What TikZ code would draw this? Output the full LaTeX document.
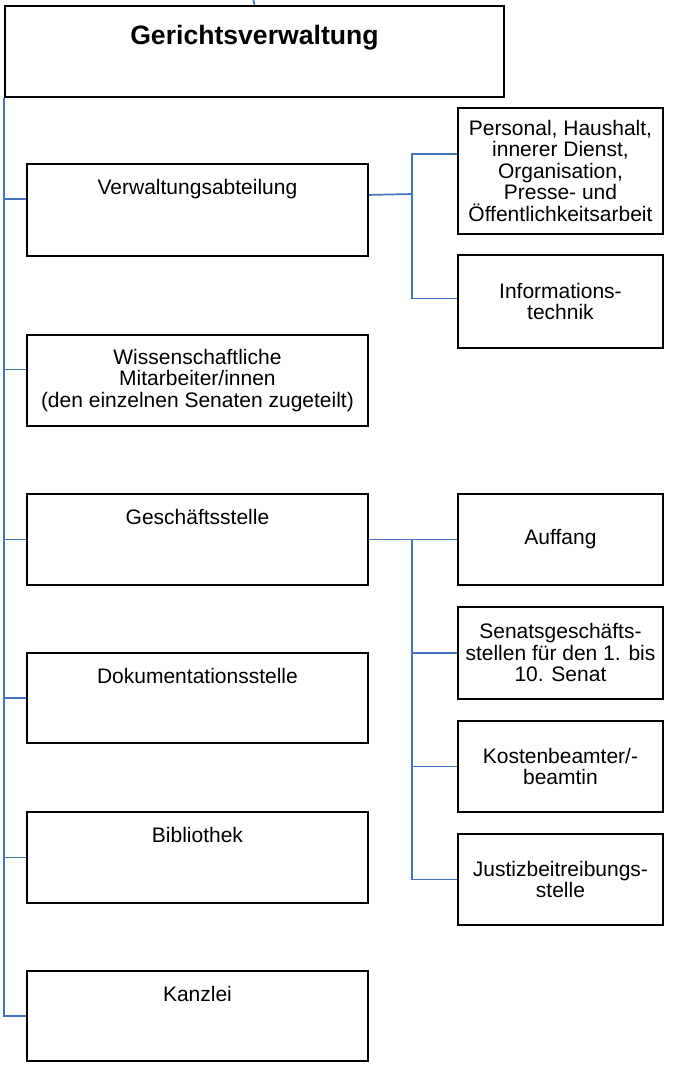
\documentclass[tikz,border=0pt]{standalone}
\usepackage{fontspec}
\setmainfont{Liberation Sans}
\definecolor{lineblue}{RGB}{68,114,196}
\newcommand\mybody{\fontsize{21}{21.5}\selectfont}
\newcommand\mytitle{\fontsize{26.6}{30}\selectfont\bfseries}
\begin{document}
\begin{tikzpicture}[x=1pt,y=-1pt,
  box/.style={draw=black, line width=1.9pt, fill=white, inner sep=0pt, anchor=north west, align=center, font=\mybody},
  lbox/.style={box, minimum width=341pt, minimum height=91pt},
  rbox/.style={box, minimum width=205pt},
  toptext/.style={label={[anchor=base,yshift=-31pt,inner sep=0pt,font=\mybody]north:#1}},
  conn/.style={draw=lineblue, line width=1.7pt}
]
\useasboundingbox (0,0) rectangle (686,1065);
% top
\node[box, minimum width=499pt, minimum height=91pt,
  label={[anchor=base,yshift=-40pt,inner sep=0pt,font=\mytitle]north:Gerichtsverwaltung}] (top) at (4,5) {};
% left column
\node[lbox, minimum height=92pt, toptext=Verwaltungsabteilung] (va) at (26,163) {};
\node[lbox] (wm) at (26,334) {Wissenschaftliche\\Mitarbeiter/innen\\(den einzelnen Senaten zugeteilt)};
\node[lbox, toptext=Geschäftsstelle] (gs) at (26,493) {};
\node[lbox, minimum height=90pt, toptext=Dokumentationsstelle] (ds) at (26,652) {};
\node[lbox, toptext=Bibliothek] (bi) at (26,811) {};
\node[lbox, minimum height=90pt, toptext=Kanzlei] (ka) at (26,970) {};
% right column
\node[rbox, minimum height=126pt] (pe) at (457,107) {Personal, Haushalt,\\innerer Dienst,\\Organisation,\\Presse- und\\Öffentlichkeitsarbeit};
\node[rbox, minimum height=93pt] (it) at (457,254) {Informations-\\technik};
\node[rbox, minimum height=91pt] (au) at (457,493) {Auffang};
\node[rbox, minimum height=92pt] (sg) at (457,606) {Senatsgeschäfts-\\stellen für den 1. bis\\10. Senat};
\node[rbox, minimum height=91pt] (ko) at (457,720) {Kostenbeamter/-\\beamtin};
\node[rbox, minimum height=91pt] (ju) at (457,833) {Justizbeitreibungs-\\stelle};
% connectors
\coordinate (t0) at (253.5,0);
\draw[conn] (t0) -- (top.north);
\draw[conn] (top.south west) |- ([yshift=11pt]va.west);
\draw[conn] (top.south west) |- ([yshift=11pt]wm.west);
\draw[conn] (top.south west) |- (gs.west);
\draw[conn] (top.south west) |- (ds.west);
\draw[conn] (top.south west) |- (bi.west);
\draw[conn] (top.south west) |- (ka.west);
\coordinate (f1) at (412,194);
\draw[conn] ([yshift=15pt]va.east) -- (f1);
\draw[conn] (f1) |- ([yshift=17pt]pe.west);
\draw[conn] (f1) |- ([yshift=3pt]it.west);
\coordinate (f2) at (412,538.5);
\draw[conn] (gs.east) -- (au.west);
\draw[conn] (f2) |- (sg.west);
\draw[conn] (f2) |- (ko.west);
\draw[conn] (f2) |- (ju.west);
\end{tikzpicture}
\end{document}
